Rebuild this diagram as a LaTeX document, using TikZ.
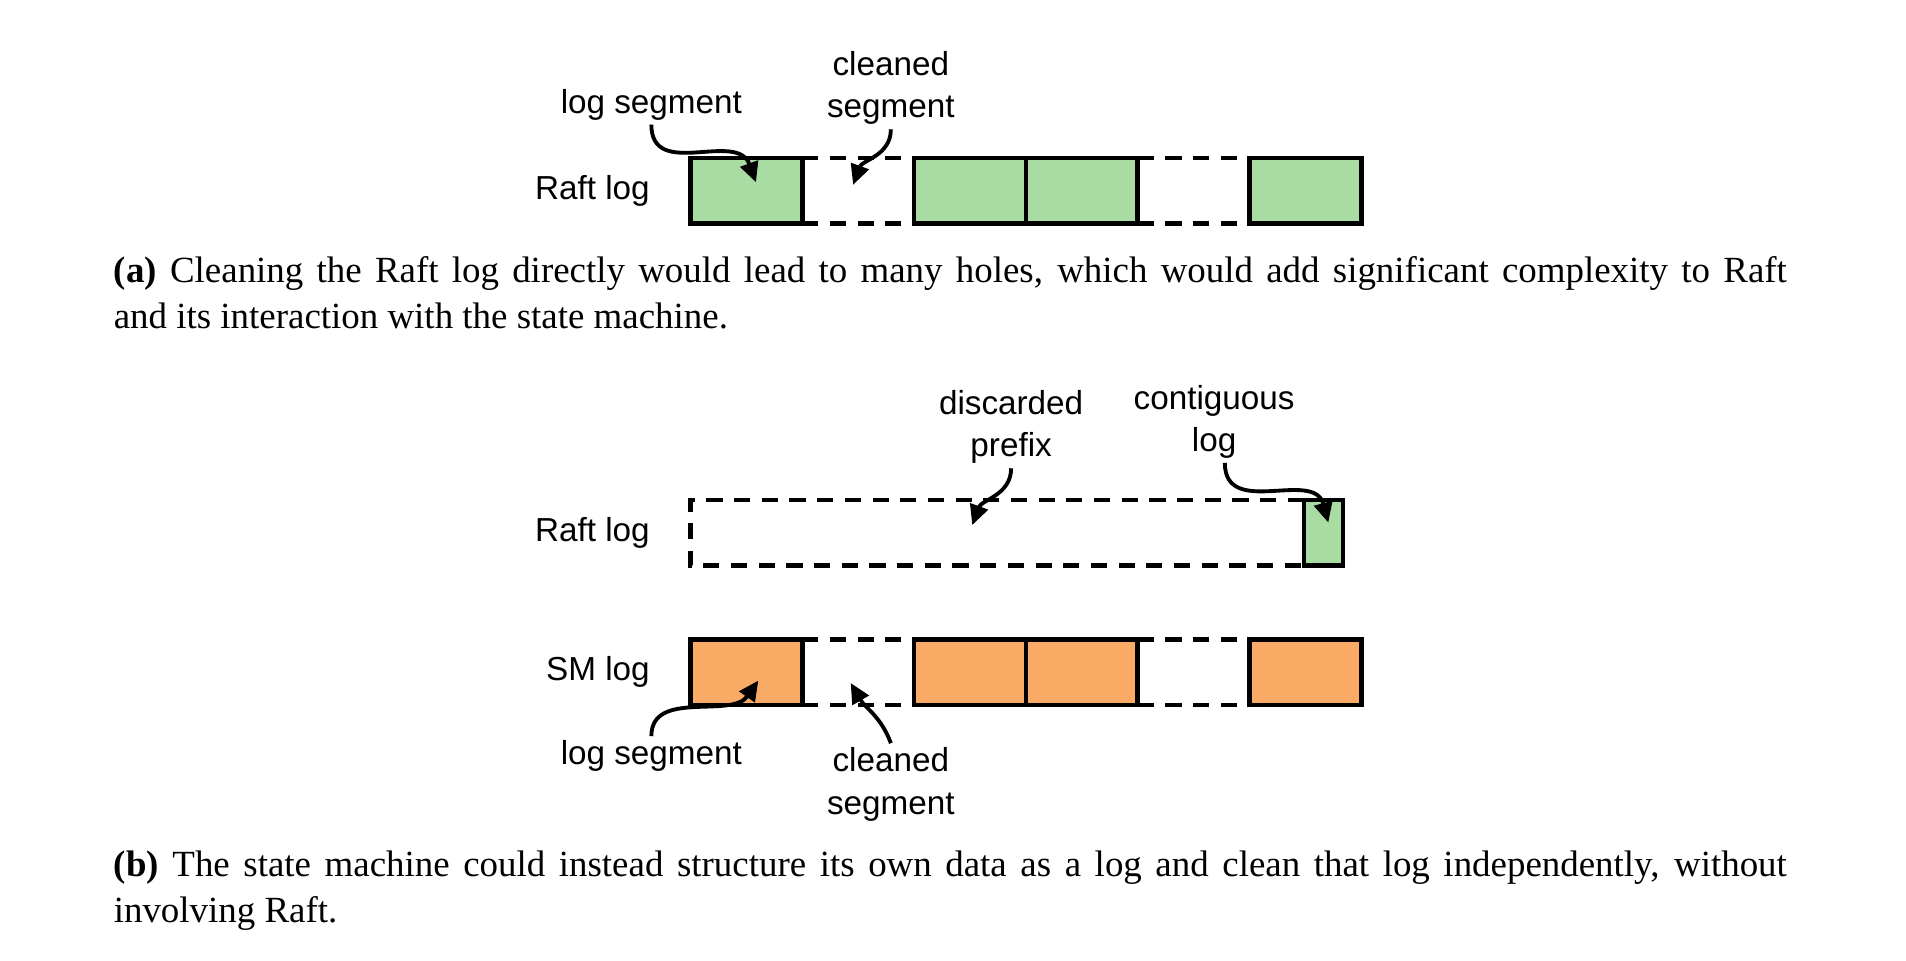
\documentclass[tikz,border=0pt]{standalone}
\usepackage{fontspec}
\setmainfont{Liberation Serif}
\setsansfont{Liberation Sans}
\usepackage{xcolor}
\usetikzlibrary{positioning, arrows.meta}
\definecolor{segGreen}{RGB}{169, 220, 163}
\definecolor{segOrange}{RGB}{249, 171, 102}
\tikzset{
    lbl/.style={
        font=\sffamily\fontsize{8.65}{11}\selectfont,
        align=center,
        inner sep=1pt
    },
    cell/.style={
        rectangle,
        draw,
        line width=1.2pt,
        minimum width=1.022cm,
        minimum height=0.6cm,
        inner sep=0pt,
        outer sep=0pt
    },
    hole/.style={
        cell,
        draw=none
    },
    gap/.style={
        line width=1.2pt,
        dash pattern=on 4.2pt off 3pt
    },
    pointer/.style={
        -{Triangle[length=5.2pt, width=4.8pt]},
        line width=1pt
    },
    caption/.style={
        font=\fontsize{9.6}{12}\selectfont,
        text width=15.29cm,
        align=justify,
        inner sep=0pt,
        anchor=base west
    }
}

\begin{document}
\begin{tikzpicture}
  \useasboundingbox (0,0) rectangle (17.42,8.775);

  % (a) Raft log with holes
  \node[lbl, anchor=east] (raftA) at (5.98,7.03) {Raft log};
  \node[cell, fill=segGreen] (a0) at (6.821,7.03) {};
  \node[hole, right=0pt of a0] (a1) {};
  \node[cell, fill=segGreen, right=0pt of a1] (a2) {};
  \node[cell, fill=segGreen, right=0pt of a2] (a3) {};
  \node[hole, right=0pt of a3] (a4) {};
  \node[cell, fill=segGreen, right=0pt of a4] (a5) {};
  \foreach \h in {a1, a4} {
    \draw[gap] (\h.north west) -- (\h.north east);
    \draw[gap] (\h.south west) -- (\h.south east);
  }

  \node[lbl] (segA) at (5.953,7.82) {log segment};
  \node[lbl] (cleanA) at (8.142,7.97) {cleaned\\segment};
  \coordinate (tipSegA) at (6.909,7.109);
  \coordinate (tipCleanA) at (7.797,7.086);
  \draw[pointer] (segA.south) to[out=-90, in=110, looseness=1.2] (tipSegA);
  \draw[pointer] (cleanA.south) to[out=-90, in=70] (tipCleanA);

  \node[caption] (capA) at (1.033,6.19) {\textbf{(a)} Cleaning the Raft log directly would lead to many holes, which would add significant complexity to Raft\linebreak and its interaction with the state machine.};

  % (b) Raft log with a discarded prefix
  \node[lbl, anchor=east] (raftB) at (5.98,3.905) {Raft log};
  \node[cell, fill=segGreen, minimum width=0.355cm] (tail) at (12.095,3.905) {};
  \node[hole, minimum width=5.608cm, left=0pt of tail] (prefix) {};
  \draw[gap] (prefix.north east) -- (prefix.north west) -- (prefix.south west) -- (prefix.south east);

  \node[lbl] (discard) at (9.241,4.872) {discarded\\prefix};
  \node[lbl] (contig) at (11.096,4.922) {contiguous\\log};
  \coordinate (tipDiscard) at (8.886,3.976);
  \coordinate (tipContig) at (12.14,3.999);
  \draw[pointer] (discard.south) to[out=-90, in=70] (tipDiscard);
  \draw[pointer] ([xshift=2.8pt]contig.south) to[out=-90, in=105, looseness=1.2] (tipContig);

  % (b) state machine log
  \node[lbl, anchor=east] (smB) at (5.98,2.632) {SM log};
  \node[cell, fill=segOrange] (b0) at (6.821,2.632) {};
  \node[hole, right=0pt of b0] (b1) {};
  \node[cell, fill=segOrange, right=0pt of b1] (b2) {};
  \node[cell, fill=segOrange, right=0pt of b2] (b3) {};
  \node[hole, right=0pt of b3] (b4) {};
  \node[cell, fill=segOrange, right=0pt of b4] (b5) {};
  \foreach \h in {b1, b4} {
    \draw[gap] (\h.north west) -- (\h.north east);
    \draw[gap] (\h.south west) -- (\h.south east);
  }

  \node[lbl] (segB) at (5.953,1.863) {log segment};
  \node[lbl] (cleanB) at (8.142,1.605) {cleaned\\segment};
  \coordinate (tipSegB) at (6.931,2.555);
  \coordinate (tipCleanB) at (7.775,2.532);
  \draw[pointer] (segB.north) to[out=90, in=-125] (tipSegB);
  \draw[pointer] (cleanB.north) to[out=110, in=-60] (tipCleanB);

  \node[caption] (capB) at (1.033,0.765) {\textbf{(b)} The state machine could instead structure its own data as a log and clean that log independently, without involving Raft.};
\end{tikzpicture}
\end{document}
